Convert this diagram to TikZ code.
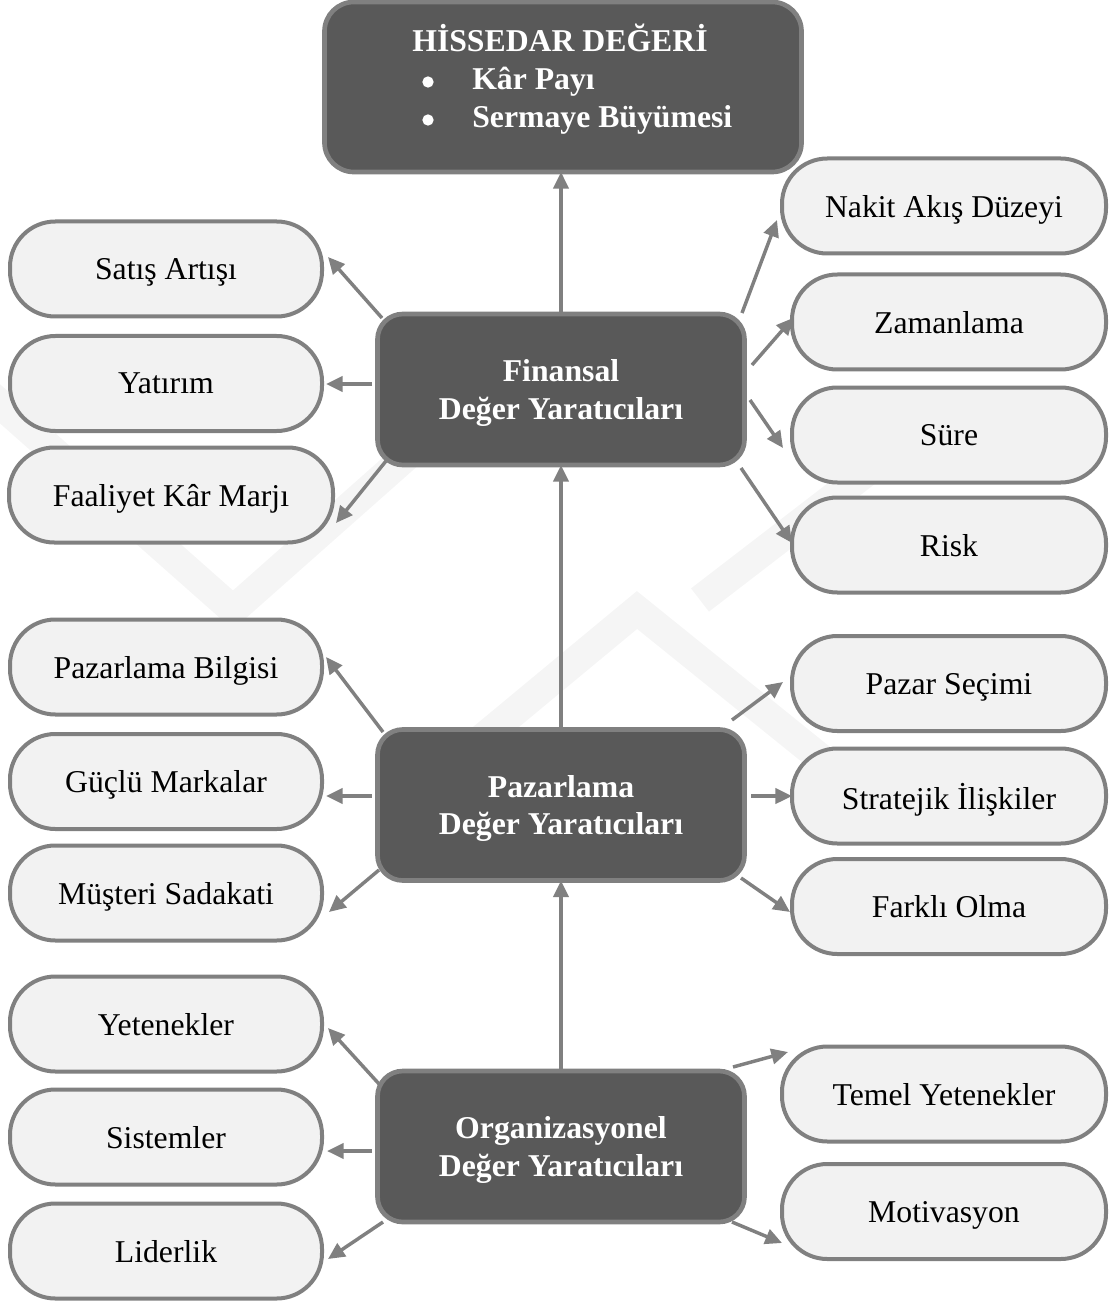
\documentclass[tikz,border=0pt]{standalone}
\usepackage{fontspec}
\setmainfont{Liberation Serif}
\usetikzlibrary{arrows.meta}
\definecolor{boxfill}{HTML}{595959}
\definecolor{edge}{HTML}{808080}
\definecolor{pillfill}{HTML}{F2F2F2}
\definecolor{mark}{HTML}{F5F5F5}
\newcommand{\labelsize}{\fontsize{23.8pt}{28pt}\selectfont}

\begin{document}
\begin{tikzpicture}[x=0.75pt,y=-0.75pt,
  topbox/.style={draw=edge, line width=3.5pt, fill=boxfill, rounded corners=22pt,
    outer sep=0pt, minimum width=357.75pt, minimum height=127.5pt},
  boxtext/.style={text=white, font=\labelsize\bfseries, inner sep=0pt},
  dot/.style={circle, fill=white, inner sep=0pt, minimum size=8.5pt},
  darkbox/.style={draw=edge, line width=3.5pt, fill=boxfill, rounded corners=19pt,
    text=white, font=\labelsize\bfseries, align=center, outer sep=0pt,
    text depth=0pt, minimum width=275.25pt, minimum height=113.25pt},
  pill/.style={draw=edge, line width=3pt, fill=pillfill, rounded corners=34pt,
    font=\labelsize, outer sep=0pt, text depth=0pt,
    minimum width=234pt, minimum height=71.25pt},
  rpill/.style={pill, minimum width=235.5pt},
  widepill/.style={pill, minimum width=243pt},
  link/.style={draw=edge, line width=2.6pt, -{Triangle[length=12.5pt,width=11.5pt]}},
  wm/.style={draw=mark, line width=22pt}]

\useasboundingbox (0,0) rectangle (1109,1301);

% faint background emblem
\draw[wm] (-10,395) -- (233,610) -- (470,400);
\draw[wm] (420,790) -- (637,610) -- (860,790);
\draw[wm] (700,600) -- (960,400);

% top goal box
\node[topbox] (hv) at (563,87) {};
\node[boxtext, anchor=base] (hvtitle) at (560,52) {HİSSEDAR DEĞERİ};
\node[dot] (b1) at (428,82) {};
\node[boxtext, anchor=base west] (kp) at (472,90) {Kâr Payı};
\node[dot] (b2) at (428,120) {};
\node[boxtext, anchor=base west] (sb) at (472,128) {Sermaye Büyümesi};

% value driver boxes
\node[darkbox] (fin) at (561,389.5) {Finansal\\Değer Yaratıcıları};
\node[darkbox] (paz) at (561,805) {Pazarlama\\Değer Yaratıcıları};
\node[darkbox] (org) at (561,1146.5) {Organizasyonel\\Değer Yaratıcıları};

% left column
\node[pill] (sa) at (166,269) {Satış Artışı};
\node[pill] (ya) at (166,383.5) {Yatırım};
\node[widepill] (fkm) at (171,495) {Faaliyet Kâr Marjı};
\node[pill] (pb) at (166,667) {Pazarlama Bilgisi};
\node[pill] (gm) at (166,781.5) {Güçlü Markalar};
\node[pill] (ms) at (166,893) {Müşteri Sadakati};
\node[pill] (ye) at (166,1024) {Yetenekler};
\node[pill] (si) at (166,1137) {Sistemler};
\node[pill] (li) at (166,1251) {Liderlik};

% right column
\node[widepill] (nad) at (944,206) {Nakit Akış Düzeyi};
\node[rpill] (zam) at (949,322) {Zamanlama};
\node[rpill] (sur) at (949,435) {Süre};
\node[rpill] (risk) at (949,545) {Risk};
\node[rpill] (ps) at (949,683.5) {Pazar Seçimi};
\node[rpill] (si2) at (949,796) {Stratejik İlişkiler};
\node[rpill] (fo) at (949,906.5) {Farklı Olma};
\node[widepill] (ty) at (944,1094) {Temel Yetenekler};
\node[widepill] (mo) at (944,1211.5) {Motivasyon};

% vertical chain
\draw[link] (fin.north) -- (fin.north |- hv.south);
\draw[link] (paz.north) -- (paz.north |- fin.south);
\draw[link] (org.north) -- (org.north |- paz.south);

% left connectors
\draw[link] ([shift={(4.5,4)}]fin.north west) -- ([shift={(6,-12)}]sa.east);
\draw[link] ([shift={(-5.5,-5.5)}]fin.west) -- ([shift={(4,0.5)}]ya.east);
\draw[link] ([shift={(8.5,-4)}]fin.south west) -- ([shift={(3,28)}]fkm.east);
\draw[link] ([shift={(5.5,2.5)}]paz.north west) -- ([shift={(4,-10)}]pb.east);
\draw[link] ([shift={(-5.5,-9)}]paz.west) -- ([shift={(4,14.5)}]gm.east);
\draw[link] ([shift={(1.5,-10.5)}]paz.south west) -- ([shift={(7,19)}]ms.east);
\draw[link] ([shift={(2.5,14)}]org.north west) -- ([shift={(6,4)}]ye.east);
\draw[link] ([shift={(-5.5,4.5)}]org.west) -- ([shift={(5,14)}]si.east);
\draw[link] ([shift={(5.5,0)}]org.south west) -- ([shift={(6,8)}]li.east);

% right connectors
\draw[link] ([shift={(-2.5,-1)}]fin.north east) -- ([shift={(-5,14)}]nad.west);
\draw[link] ([shift={(7.5,-24.5)}]fin.east) -- ([shift={(1,-4)}]zam.west);
\draw[link] ([shift={(5.5,10.5)}]fin.east) -- ([shift={(-9,13)}]sur.west);
\draw[link] ([shift={(-3.5,3)}]fin.south east) -- ([shift={(0,-2)}]risk.west);
\draw[link] ([shift={(-12.5,-9.5)}]paz.north east) -- ([shift={(-9,-1.5)}]ps.west);
\draw[link] ([shift={(6.5,-9)}]paz.east) -- (si2.west);
\draw[link] ([shift={(-3.5,-2.5)}]paz.south east) -- ([shift={(-2,5.5)}]fo.west);
\draw[link] ([shift={(-11.5,-4)}]org.north east) -- ([shift={(6,-42)}]ty.west);
\draw[link] ([shift={(-12.5,0)}]org.south east) -- ([shift={(0,31.5)}]mo.west);

\end{tikzpicture}
\end{document}
